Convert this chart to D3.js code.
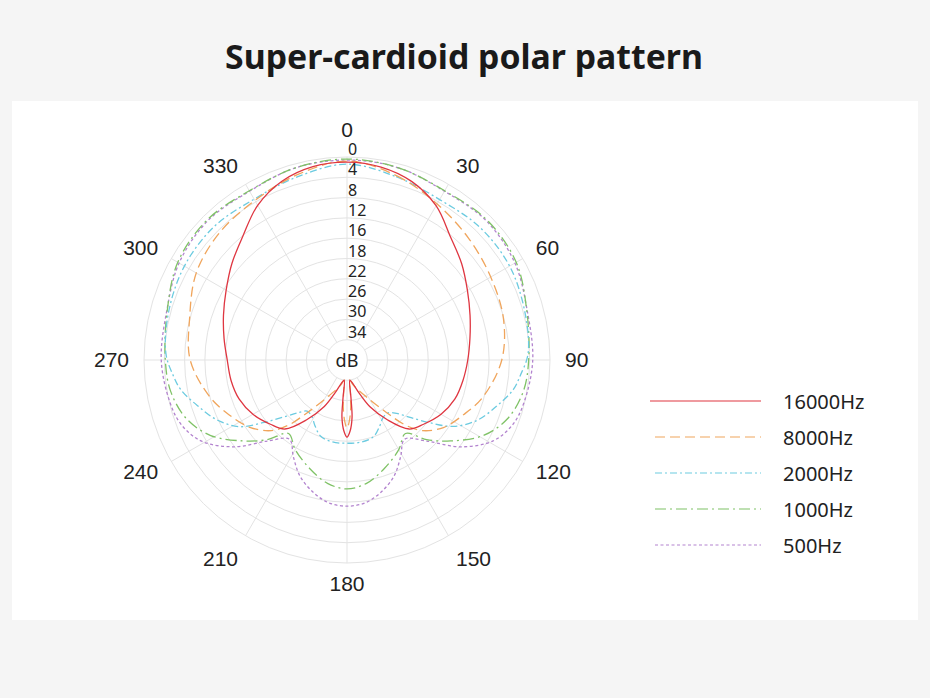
<!DOCTYPE html>
<html>
<head>
<meta charset="utf-8">
<script src="https://cdn.jsdelivr.net/npm/d3@7"></script>
<style>
  html, body { margin: 0; padding: 0; background: #f5f5f5; }
  svg { display: block; }
</style>
</head>
<body>
<svg width="930" height="698"></svg>
<script>
// grid ticks
var ringTicks = [0, 4, 8, 12, 16, 18, 22, 26, 30, 34];
var angleTicks = [0, 30, 60, 90, 120, 150, 180, 210, 240, 270, 300, 330];

var seriesNames = ["16000Hz", "8000Hz", "2000Hz", "1000Hz", "500Hz"];

// [angle in degrees, dB down]
var hz16000 = [[0,1.0],[10,1.4],[20,2.6],[30,4.9],[40,8.3],[50,10.5],[60,12.6],[70,14.2],[80,15.4],[90,16.1],
  [100,16.4],[110,16.7],[120,17.3],[130,18.3],[138,19.7],[146,23.8],[154,27.8],[160,31.1],[166,33.2],[172,34],
  [174,30.5],[175,26.6],[177.5,24.0],[180,22.8],[182.5,24.0],[185,26.6],[186,30.5],[188,34],[194,33.2],[200,31.1],
  [206,27.8],[214,23.8],[222,19.7],[230,18.3],[240,17.3],[250,16.7],[260,16.4],[270,16.2],[280,15.4],[290,14.1],
  [300,12.5],[310,10.4],[320,8.1],[330,4.8],[340,2.5],[350,1.3]];

var hz8000 = [[0,0.8],[15,2.4],[30,4.5],[45,6.1],[60,7.3],[75,8.1],[90,9.5],[105,12.2],[115,14.6],[125,16.4],
  [133,17.8],[138,20.7],[143,25.0],[152,29.7],[166,32.9],[172,34],[174,31.7],[175.5,28.6],[178,25.8],[180,24.6],
  [182,25.8],[184.5,28.6],[186,31.7],[188,34],[194,32.9],[208,29.7],[217,25.0],[222,20.7],[227,17.8],[235,16.4],
  [245,14.4],[255,12.0],[270,9.1],[285,7.9],[300,5.7],[315,4.5],[330,3.7],[345,2.2]];

var hz2000 = [[0,1.4],[15,2.6],[30,3.5],[45,3.0],[60,3.0],[75,3.7],[88,4.3],[95,5.7],[100,6.7],[107,9.1],
  [115,11.8],[122,15.3],[127,17.7],[132,21.0],[137,23.6],[142,24.8],[148,24.6],[154,23.4],[161,22.0],[170,21.6],
  [180,21.6],[190,21.6],[199,22.1],[206,23.6],[212,24.9],[218,25.2],[223,23.8],[228,21.2],[233,17.8],[238,15.2],
  [245,11.9],[253,9.2],[260,6.7],[265,5.6],[272,4.3],[285,3.6],[300,3.0],[315,2.9],[330,3.4],[345,2.6]];

var hz1000 = [[0,0.4],[15,0.8],[30,1.5],[45,1.0],[60,1.5],[75,3.3],[90,4.2],[100,4.7],[110,6.3],[119,9.3],
  [128,14.1],[135,16.9],[141.5,19.5],[150,17.8],[161,16.7],[171,15.4],[180,14.6],[189,15.4],[199,16.7],[210,17.8],
  [218.5,19.5],[225,16.9],[232,14.1],[241,9.3],[250,6.3],[260,4.7],[270,4.2],[285,3.3],[300,1.5],[315,1.0],
  [330,1.5],[345,0.8]];

var hz500 = [[0,0.6],[15,0.8],[30,1.6],[45,1.2],[60,1.8],[75,3.2],[90,3.4],[103,4.1],[111,4.9],[119,7.1],
  [127.5,11.9],[135.5,16.8],[144,18.7],[151,17.1],[158,15.3],[166,13.0],[173,11.6],[180,11.2],[187,11.6],[194,13.0],
  [202,15.3],[209,17.1],[216,18.7],[224.5,16.8],[232.5,11.9],[241,7.1],[249,4.9],[257,4.1],[270,3.4],[285,3.2],
  [300,1.8],[315,1.2],[330,1.6],[345,0.8]];

var seriesData = [hz16000, hz8000, hz2000, hz1000, hz500];
var colors = ["#df3641", "#f0a55c", "#6ccbe0", "#7fc266", "#b384cf"];
var dashes = [null, "10,5", "7,3,2,3", "11,4,2,4", "3,2.5"];

var cx = 347, cy = 360;
var outerR = 203;
var ringStep = outerR / ringTicks.length;

var svg = d3.select("svg");

// white panel
svg.append("rect")
  .attr("x", 12).attr("y", 101)
  .attr("width", 906).attr("height", 519)
  .attr("fill", "#fff");

svg.append("text")
  .attr("x", 464).attr("y", 69)
  .attr("text-anchor", "middle")
  .style("font-family", "'Noto Sans', sans-serif")
  .style("font-weight", "bold")
  .style("font-size", "33.8px")
  .attr("fill", "#1a1a1a")
  .text("Super-cardioid polar pattern");

// piecewise radius scale: rings are evenly spaced although the dB steps are not
var rScale = d3.scaleLinear()
  .domain(ringTicks)
  .range(ringTicks.map(function (d, i) { return outerR - i * ringStep; }))
  .clamp(true);

var g = svg.append("g").attr("transform", "translate(" + cx + "," + cy + ")");

function rad(a) { return a * Math.PI / 180; }

g.selectAll(".ring")
  .data(ringTicks)
  .enter()
  .append("circle")
  .attr("class", "ring")
  .attr("r", rScale)
  .attr("fill", "none")
  .attr("stroke", "#e3e3e3")
  .attr("stroke-width", 1);

var rMin = rScale(ringTicks[ringTicks.length - 1]);
g.selectAll(".spoke")
  .data(angleTicks)
  .enter()
  .append("line")
  .attr("class", "spoke")
  .attr("x1", function (a) { return rMin * Math.sin(rad(a)); })
  .attr("y1", function (a) { return -rMin * Math.cos(rad(a)); })
  .attr("x2", function (a) { return outerR * Math.sin(rad(a)); })
  .attr("y2", function (a) { return -outerR * Math.cos(rad(a)); })
  .attr("stroke", "#e3e3e3")
  .attr("stroke-width", 1);

// angle labels, anchored on the side facing the circle
g.selectAll(".angle-label")
  .data(angleTicks)
  .enter()
  .append("text")
  .attr("class", "angle-label")
  .attr("x", function (a) { return (outerR + 15) * Math.sin(rad(a)); })
  .attr("y", function (a) { return -(outerR + 21) * Math.cos(rad(a)) - 1; })
  .attr("dy", function (a) {
    if (a === 0) return -6;
    if (a === 150 || a === 210) return 6;
    return 0;
  })
  .attr("text-anchor", function (a) {
    if (a === 0 || a === 180) return "middle";
    return a < 180 ? "start" : "end";
  })
  .attr("dominant-baseline", "central")
  .style("font-family", "'Liberation Sans', Arial, sans-serif")
  .style("font-size", "21px")
  .attr("fill", "#222")
  .text(function (a) { return a; });

// curves
var line = d3.lineRadial()
  .angle(function (d) { return rad(d[0]); })
  .radius(function (d) { return rScale(d[1]); })
  .curve(d3.curveCatmullRomClosed.alpha(0.5));

var order = [4, 3, 2, 1, 0];
g.selectAll(".curve")
  .data(order)
  .enter()
  .append("path")
  .attr("class", "curve")
  .attr("d", function (i) { return line(seriesData[i]); })
  .attr("fill", "none")
  .attr("stroke", function (i) { return colors[i]; })
  .attr("stroke-width", 1.3)
  .attr("stroke-dasharray", function (i) { return dashes[i]; });

// ring labels along the 0 spoke
g.selectAll(".ring-label")
  .data(ringTicks)
  .enter()
  .append("text")
  .attr("class", "ring-label")
  .attr("x", 1)
  .attr("y", function (d) { return -rScale(d) - 8; })
  .attr("dominant-baseline", "central")
  .style("font-family", "'Noto Sans', sans-serif")
  .style("font-size", "16px")
  .attr("fill", "#222")
  .text(function (d) { return d; });

g.append("text")
  .attr("x", 0).attr("y", 0)
  .attr("text-anchor", "middle")
  .attr("dominant-baseline", "central")
  .style("font-family", "'Noto Sans', sans-serif")
  .style("font-size", "18px")
  .attr("fill", "#222")
  .text("dB");

// legend
var legend = svg.append("g").attr("transform", "translate(650,401)");
var items = legend.selectAll(".item")
  .data(seriesNames)
  .enter()
  .append("g")
  .attr("class", "item")
  .attr("transform", function (d, i) { return "translate(0," + (i * 36) + ")"; });

items.append("line")
  .attr("x1", function (d, i) { return i === 0 ? 0 : 5; })
  .attr("x2", 111)
  .attr("stroke", function (d, i) { return colors[i]; })
  .attr("stroke-width", 1.1)
  .attr("stroke-dasharray", function (d, i) { return dashes[i]; });

items.append("text")
  .attr("x", 133)
  .attr("dominant-baseline", "central")
  .style("font-family", "'Noto Sans', sans-serif")
  .style("font-size", "20px")
  .attr("fill", "#222")
  .text(function (d) { return d; });
</script>
</body>
</html>
